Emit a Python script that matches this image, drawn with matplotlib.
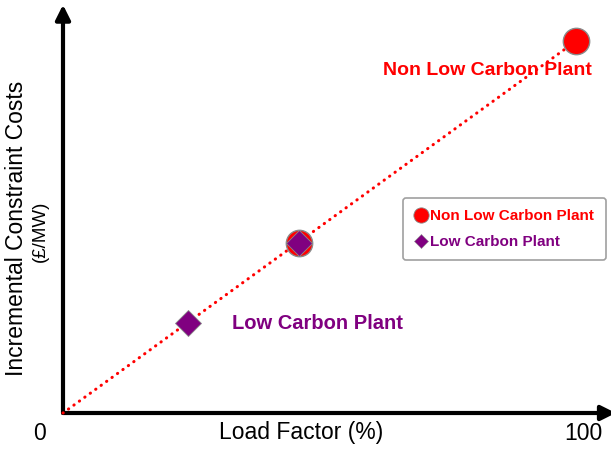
import matplotlib.pyplot as plt
from matplotlib.lines import Line2D

plt.rcParams['font.family'] = ['Liberation Sans', 'DejaVu Sans']

# data (load factor %, cost in arbitrary units)
load_factor = [0, 98.5]
cost_line = [0, 92.8]
non_low_x = [45.3, 98.5]
non_low_y = [42.5, 92.8]
low_x = [24.0, 45.3]
low_y = [22.4, 42.5]

RED = '#ff0000'
PURPLE = '#800080'
W, H = 611, 450

fig = plt.figure(figsize=(W / 100, H / 100), dpi=100)
ax = fig.add_axes([63 / W, 37 / H, (605 - 63) / W, 401 / H])
ax.set_xlim(0, 104)
ax.set_ylim(0, 100)
for s in ax.spines.values():
    s.set_visible(False)
ax.set_xticks([])
ax.set_yticks([])

# axis arrows
ax.annotate('', xy=(1.02, 0), xytext=(0, 0), xycoords='axes fraction',
            arrowprops=dict(arrowstyle='-|>', lw=3, color='black', mutation_scale=22,
                            shrinkA=0, shrinkB=0), annotation_clip=False)
ax.annotate('', xy=(0, 1.018), xytext=(0, 0), xycoords='axes fraction',
            arrowprops=dict(arrowstyle='-|>', lw=3, color='black', mutation_scale=22,
                            shrinkA=0, shrinkB=0), annotation_clip=False)

# dotted trend line
ax.plot(load_factor, cost_line, color=RED, lw=2.2, linestyle=(0, (0.1, 2.1)),
        dash_capstyle='round', zorder=3, clip_on=False)

ax.plot(non_low_x, non_low_y, 'o', color=RED, ms=19, mec='#8a8a8a', mew=1,
        zorder=4, clip_on=False)
ax.plot(low_x, low_y, 'D', color=PURPLE, ms=13, mec='#8a8a8a', mew=0.6,
        zorder=5, clip_on=False)

ax.text(81.5, 85.5, 'Non Low Carbon Plant', color=RED, fontsize=14,
        fontweight='bold', ha='center', va='center', zorder=2)
ax.text(32.4, 22.3, 'Low Carbon Plant', color=PURPLE, fontsize=14.5,
        fontweight='bold', ha='left', va='center', zorder=2)

# axis labels
fig.text(40 / W, 1 - 433 / H, '0', fontsize=16.5, ha='center', va='center')
fig.text(301 / W, 1 - 433 / H, 'Load Factor (%)', fontsize=16.5, ha='center', va='center')
fig.text(583 / W, 1 - 433 / H, '100', fontsize=16.5, ha='center', va='center')
fig.text(17 / W, 1 - 228 / H, 'Incremental Constraint Costs', fontsize=16.5,
         rotation=90, ha='center', va='center')
fig.text(40 / W, 1 - 231 / H, '(£/MW)', fontsize=13.5, rotation=90,
         ha='center', va='center')

handles = [Line2D([], [], marker='o', ls='', color=RED, ms=11, mec='#8a8a8a', mew=0.6),
           Line2D([], [], marker='D', ls='', color=PURPLE, ms=7, mec='#8a8a8a', mew=0.4)]
leg = ax.legend(handles, ['Non Low Carbon Plant', 'Low Carbon Plant'],
                loc='upper left', bbox_to_anchor=(403 / W, 1 - 198 / H),
                bbox_transform=fig.transFigure, labelcolor=[RED, PURPLE],
                prop={'weight': 'bold', 'size': 11}, frameon=True, fancybox=True,
                edgecolor='#a0a0a0', framealpha=1, handlelength=0.8,
                handletextpad=0.25, borderpad=0.75, labelspacing=0.75, borderaxespad=0)
leg.get_frame().set_linewidth(1.2)

fig.savefig('out.png', dpi=100)
